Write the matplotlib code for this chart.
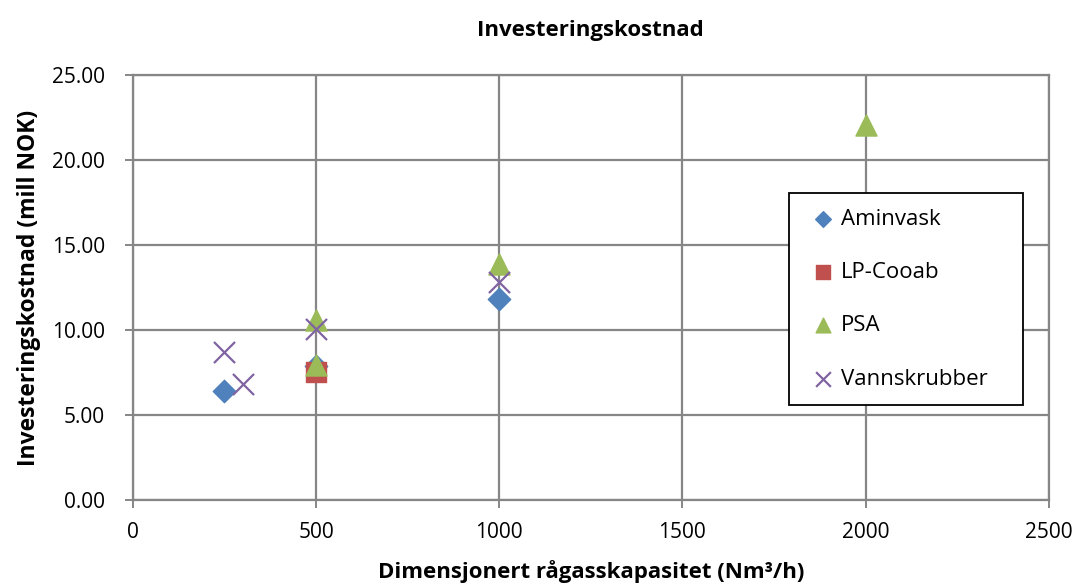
import matplotlib
matplotlib.use("Agg")
import matplotlib.pyplot as plt

plt.rcParams['font.family'] = ['Open Sans', 'DejaVu Sans']

amin_x = [250, 500, 1000]
amin_y = [6.4, 7.9, 11.8]
lp_x = [500]
lp_y = [7.5]
psa_x = [500, 500, 1000, 2000]
psa_y = [10.6, 7.95, 13.9, 22.05]
vann_x = [250, 300, 500, 1000]
vann_y = [8.7, 6.8, 10.05, 12.85]

grid_c = '#868686'

fig = plt.figure(figsize=(10.8, 5.88), dpi=100)
ax = fig.add_axes([0.123, 0.150, 0.848, 0.722])

ax.scatter(amin_x, amin_y, marker='D', s=130, color='#4F81BD', label='Aminvask', zorder=3)
ax.scatter(lp_x, lp_y, marker='s', s=200, color='#C0504D', label='LP-Cooab', zorder=3)
ax.scatter(psa_x, psa_y, marker='^', s=230, color='#9BBB59', label='PSA', zorder=4)
ax.scatter(vann_x, vann_y, marker='x', s=230, color='#8064A2', linewidths=1.6,
           label='Vannskrubber', zorder=5)

ax.set_xlim(0, 2500)
ax.set_ylim(0, 25)
ax.set_xticks(range(0, 2501, 500))
ax.set_yticks([0, 5, 10, 15, 20, 25])
ax.set_yticklabels(['%.2f' % v for v in [0, 5, 10, 15, 20, 25]])
ax.grid(True, color=grid_c, linewidth=1.6)
ax.set_axisbelow(True)
for s in ax.spines.values():
    s.set_color(grid_c)
    s.set_linewidth(1.6)
ax.tick_params(colors=grid_c, labelcolor='black', labelsize=15, length=6, width=1.4)
ax.tick_params(axis='y', pad=14)
ax.tick_params(axis='x', pad=10)

ax.set_title('Investeringskostnad', fontsize=16, fontweight='bold', pad=28)
ax.set_xlabel('Dimensjonert rågasskapasitet (Nm³/h)', fontsize=16, fontweight='bold', labelpad=12)
ax.set_ylabel('Investeringskostnad (mill NOK)', fontsize=16.5, fontweight='bold', labelpad=8)

leg = ax.legend(loc='upper left', bbox_to_anchor=(0.717, 0.0, 0.2555, 0.722),
                mode='expand', fontsize=16,
                frameon=True, fancybox=False, edgecolor='black', labelspacing=1.45,
                handletextpad=0.0, borderpad=0.7, handlelength=1.6,
                markerscale=0.7, borderaxespad=0)
leg.get_frame().set_linewidth(1.3)
leg.get_frame().set_alpha(1)

fig.savefig('out.png', dpi=100)
